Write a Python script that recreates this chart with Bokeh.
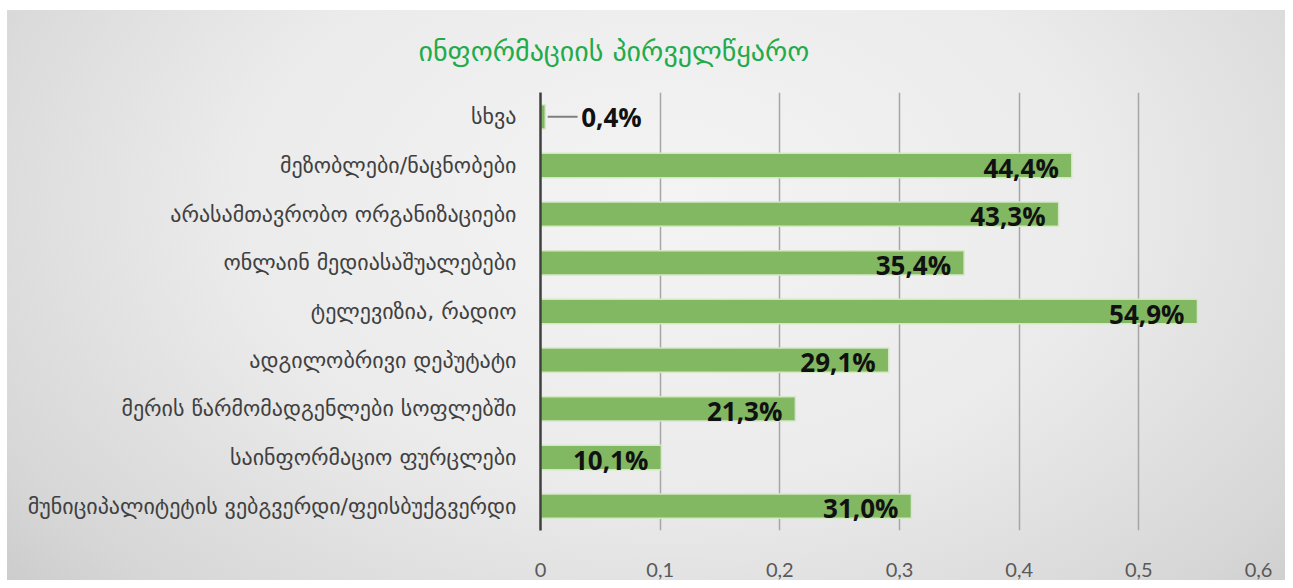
from bokeh.plotting import figure
from bokeh.models import FactorRange, FixedTicker, CustomJSTickFormatter, ColumnDataSource, Title
from bokeh.core.properties import value
from bokeh.embed import file_html
from bokeh.resources import INLINE

categories = [
    "სხვა",
    "მეზობლები/ნაცნობები",
    "არასამთავრობო ორგანიზაციები",
    "ონლაინ მედიასაშუალებები",
    "ტელევიზია, რადიო",
    "ადგილობრივი დეპუტატი",
    "მერის წარმომადგენლები სოფლებში",
    "საინფორმაციო ფურცლები",
    "მუნიციპალიტეტის ვებგვერდი/ფეისბუქგვერდი",
]
shares = [0.004, 0.444, 0.433, 0.354, 0.549, 0.291, 0.213, 0.101, 0.310]
share_labels = ["0,4%", "44,4%", "43,3%", "35,4%", "54,9%", "29,1%", "21,3%", "10,1%", "31,0%"]
x_ticks = [0, 0.1, 0.2, 0.3, 0.4, 0.5, 0.6]
title_text = "ინფორმაციის პირველწყარო"

p = figure(
    width=1285, height=580,
    y_range=FactorRange(*reversed(categories)),
    x_range=(0, 0.6),
    output_backend="svg", toolbar_location=None,
    min_border_left=540, min_border_right=27,
    min_border_top=92, min_border_bottom=50,
    background_fill_alpha=0, border_fill_alpha=0,
    outline_line_color=None,
)
p.styles = {
    "background": (
        "linear-gradient(#ffffff, #ffffff) top left / 100% 10px no-repeat, "
        "linear-gradient(#ffffff, #ffffff) top left / 7px 100% no-repeat, "
        "radial-gradient(ellipse 75% 110% at 52% 35%, #f4f4f4 0%, #ebebeb 45%, #d6d6d6 80%, #c4c4c4 100%)"
    )
}

p.add_layout(Title(text=title_text, align="left", offset=-122,
                   text_font="DejaVu Sans", text_font_size="28px",
                   text_color="#22ab4b", text_font_style="normal",
                   standoff=50), "above")

src = ColumnDataSource(dict(cat=categories, share=shares, lab=share_labels))
p.hbar(y="cat", right="share", left=0, height=0.5, source=src,
       fill_color="#83b863", line_color="#d4e8c6", line_width=1.5)

inside = ColumnDataSource(dict(cat=categories[1:], share=shares[1:], lab=share_labels[1:]))
p.text(x="share", y="cat", text="lab", source=inside,
       text_align="right", text_baseline="middle", x_offset=-13, y_offset=2,
       text_font=value("Open Sans"), text_font_style="bold",
       text_font_size="26px", text_color="#111111")

# small value: label outside with a leader line
small = ColumnDataSource(dict(cat=[categories[0]], share=[shares[0]], lab=[share_labels[0]],
                              lx=[shares[0] + 0.03]))
p.text(x="lx", y="cat", text="lab", source=small,
       text_align="left", text_baseline="middle", y_offset=0,
       text_font=value("Open Sans"), text_font_style="bold",
       text_font_size="26px", text_color="#111111")
p.segment(x0=[shares[0] + 0.002], y0=[categories[0]], x1=[shares[0] + 0.027], y1=[categories[0]],
          line_color="#7f7f7f", line_width=2)

p.xaxis.ticker = FixedTicker(ticks=x_ticks)
p.xaxis.formatter = CustomJSTickFormatter(code="return tick == 0 ? '0' : tick.toFixed(1).replace('.', ',');")
p.xaxis.axis_line_color = None
p.xaxis.major_tick_line_color = None
p.xaxis.minor_tick_line_color = None
p.xaxis.major_label_text_font = "Lato"
p.xaxis.major_label_text_font_size = "20px"
p.xaxis.major_label_text_color = "#595959"
p.xaxis.major_label_standoff = 26

p.yaxis.axis_line_color = "#404040"
p.yaxis.axis_line_width = 2.5
p.yaxis.major_tick_line_color = None
p.yaxis.minor_tick_line_color = None
p.yaxis.major_label_text_font = "DejaVu Sans"
p.yaxis.major_label_text_font_size = "22px"
p.yaxis.major_label_text_color = "#404040"
p.yaxis.major_label_standoff = 18

p.xgrid.grid_line_color = "#a6a6a6"
p.xgrid.grid_line_width = 1.5
p.ygrid.grid_line_color = None

open("out.html", "w").write(file_html(p, INLINE))
